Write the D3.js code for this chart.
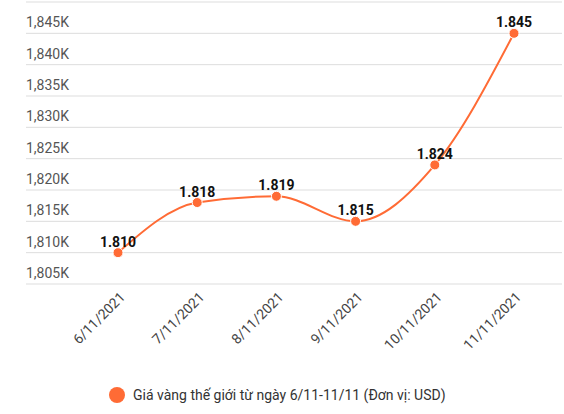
<!DOCTYPE html><html><head><meta charset="utf-8"><script src="https://cdn.jsdelivr.net/npm/d3@7"></script>
<style>body{margin:0;background:#fff}text{font-family:Roboto,sans-serif}</style></head><body><svg id="c" width="564" height="414"></svg>
<script>
const categories=["6/11/2021","7/11/2021","8/11/2021","9/11/2021","10/11/2021","11/11/2021"];
const values=[1810,1818,1819,1815,1824,1845];
const valueLabels=["1.810","1.818","1.819","1.815","1.824","1.845"];
const yTicks=[1805,1810,1815,1820,1825,1830,1835,1840,1845,1850];
const seriesName="Giá vàng thế giới từ ngày 6/11-11/11 (Đơn vị: USD)";
const color="#ff6b35";
const svg=d3.select("#c");
const x=d3.scalePoint().domain(categories).range([118,514]);
const y=d3.scaleLinear().domain([1805,1850]).range([284,2]);
const g=svg.append("g");
yTicks.forEach(t=>{
  g.append("line").attr("x1",26).attr("x2",562).attr("y1",y(t)).attr("y2",y(t)).attr("stroke","#ddd").attr("stroke-width",1);
  if(t<1850) g.append("text").attr("x",26).attr("y",y(t)-6).attr("font-size",14).attr("fill","#555").text(d3.format(",")(t)+"K");
});
svg.append("path").datum(values).attr("fill","none").attr("stroke",color).attr("stroke-width",2)
  .attr("d",d3.line().x((d,i)=>x(categories[i])).y(d=>y(d)).curve(d3.curveMonotoneX));
values.forEach((v,i)=>{
  svg.append("circle").attr("cx",x(categories[i])).attr("cy",y(v)).attr("r",5).attr("fill",color).attr("stroke","#fff").attr("stroke-width",1);
  svg.append("text").attr("x",x(categories[i])).attr("y",y(v)-6).attr("text-anchor","middle").attr("font-size",14).attr("font-weight","bold").attr("fill","#111").text(valueLabels[i]);
});
categories.forEach(c=>{
  svg.append("text").attr("transform",`translate(${x(c)+8},${298}) rotate(-45)`).attr("text-anchor","end").attr("font-size",14).attr("fill","#444").text(c);
});
svg.append("circle").attr("cx",117).attr("cy",395).attr("r",8).attr("fill",color);
svg.append("text").attr("x",133).attr("y",400).attr("font-size",14).attr("fill","#333").text(seriesName);
</script></body></html>
